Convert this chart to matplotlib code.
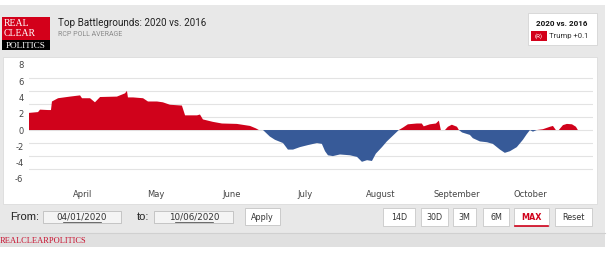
import numpy as np
import pandas as pd
import matplotlib
matplotlib.use("Agg")
import matplotlib.pyplot as plt
import matplotlib.dates as mdates
from matplotlib.patches import Rectangle

# trump margin 2020 minus 2016 (days counted from Apr 1, 2020)
day_offset = [-22.1, -18.4, -17.6, -14.3, -13.1, -12.7, -10.2, -5.3, -1.2, -0.4,
              2.9, 4.9, 7.0, 13.9, 17.2, 18.0, 18.4, 20.5, 24.6, 26.6,
              30.3, 32.7, 35.6, 40.5, 41.8, 46.7, 47.9, 49.1, 53.2, 56.9,
              63.0, 68.4, 70.8, 72.0, 73.7, 76.5, 78.6, 81.9, 83.9, 86.0,
              88.8, 92.1, 95.8, 97.8, 99.1, 100.3, 102.3, 105.2, 109.3, 112.2,
              114.2, 116.3, 118.3, 119.9, 122.4, 124.4, 126.5, 129.3, 131.0, 133.0,
              136.7, 138.7, 139.5, 142.0, 144.5, 145.7, 146.5, 148.2, 149.4, 151.0,
              153.1, 153.9, 155.2, 158.4, 159.6, 162.5, 165.4, 167.8, 170.7, 172.7,
              174.8, 177.6, 180.1, 181.7, 183.0, 184.2, 185.8, 188.3, 191.2, 192.4,
              193.6, 194.8, 196.5, 198.1, 200.2, 201.8, 202.6]
margin = [2.1, 2.2, 2.5, 2.45, 2.45, 3.5, 3.9, 4.1, 4.25, 3.9,
          3.9, 3.4, 4.05, 4.1, 4.5, 4.8, 4.0, 4.0, 3.9, 3.5,
          3.5, 3.4, 3.1, 3.0, 1.8, 1.8, 1.9, 1.3, 1.0, 0.8,
          0.75, 0.5, 0.2, 0.0, 0.0, -0.8, -1.2, -1.6, -2.4, -2.4,
          -2.1, -1.85, -1.6, -1.7, -2.6, -3.1, -3.2, -3.0, -3.1, -3.3,
          -3.9, -3.7, -3.8, -2.9, -2.1, -1.4, -0.8, 0.0, 0.3, 0.7,
          0.8, 0.8, 0.45, 0.7, 0.8, 1.15, 0.0, 0.0, 0.4, 0.65,
          0.4, 0.0, -0.3, -0.6, -1.0, -1.4, -1.5, -1.7, -2.4, -2.8,
          -2.6, -2.1, -1.2, -0.5, 0.0, -0.2, 0.0, 0.1, 0.4, 0.5,
          0.0, 0.0, 0.6, 0.75, 0.7, 0.4, 0.0]

y_ticks = [8, 6, 4, 2, 0, -2, -4, -6]
grid_vals = [6.4, 4.8, 3.2, 1.6, 0, -1.6, -3.2, -4.8]
range_buttons = ["14D", "30D", "3M", "6M", "MAX", "Reset"]

RED = "#d0021b"
BLUE = "#375a98"

start = pd.Timestamp("2020-04-01")
x = mdates.date2num(start + pd.to_timedelta(day_offset, unit="D"))
y = np.array(margin)

fig = plt.figure(figsize=(6.11, 2.54), dpi=100)

# background / page furniture drawn in pixel coordinates
bg = fig.add_axes([0, 0, 1, 1])
bg.set_xlim(0, 611)
bg.set_ylim(254, 0)
bg.axis("off")

bg.add_patch(Rectangle((0, 5), 605, 242, color="#e8e8e8", lw=0))
grad = np.linspace(0, 1, 60).reshape(-1, 1)
bg.imshow(grad, extent=(0, 605, 57, 5), cmap=plt.matplotlib.colors.LinearSegmentedColormap.from_list(
    "hdr", ["#f6f6f6", "#e2e2e2"]), aspect="auto", zorder=0.5)
bg.add_patch(Rectangle((3, 57), 594, 147, facecolor="white", edgecolor="#dcdcdc", lw=0.6, zorder=1))
bg.add_patch(Rectangle((0, 233), 605, 14, color="#e0e0e0", lw=0, zorder=1))
bg.plot([0, 605], [233, 233], color="#d0d0d0", lw=0.8, zorder=1)
bg.set_ylim(254, 0)
bg.set_xlim(0, 611)

# logo
bg.add_patch(Rectangle((2, 17), 48, 33, color="#d3001a", lw=0, zorder=2))
bg.add_patch(Rectangle((2, 40), 48, 10, color="black", lw=0, zorder=2))
bg.text(4, 24, "REAL", color="white", fontsize=7, family="Liberation Serif", va="center", zorder=3)
bg.text(4, 33, "CLEAR", color="white", fontsize=7, family="Liberation Serif", va="center", zorder=3)
bg.text(26, 45.5, "POLITICS", color="white", fontsize=6.6, family="Liberation Serif",
        va="center", ha="center", zorder=3)

bg.text(58, 23, "Top Battlegrounds: 2020 vs. 2016", fontsize=7.1, family="Roboto",
        color="#222222", va="center", zorder=3)
bg.text(58, 35, "RCP POLL AVERAGE", fontsize=5, family="Roboto", color="#8a8a8a",
        va="center", zorder=3)

# legend box
bg.add_patch(Rectangle((528, 13), 69, 32, facecolor="white", edgecolor="#d4d4d4", lw=0.6, zorder=2))
bg.text(562, 23, "2020 vs. 2016", fontsize=5.8, family="Roboto", weight="bold",
        ha="center", va="center", color="#111111", zorder=3)
bg.add_patch(Rectangle((531, 31), 16, 10, color="#d3001a", lw=0, zorder=3))
bg.text(539, 36, "(R)", fontsize=4.5, family="Roboto", color="white", ha="center", va="center", zorder=4)
bg.text(549, 36, "Trump +0.1", fontsize=5.6, family="Roboto", color="#333333", va="center", zorder=3)

# footer controls
bg.text(10, 217, "From:", fontsize=8, family="Liberation Sans", color="#222222", va="center", zorder=3)
bg.add_patch(Rectangle((43, 211), 78, 12, facecolor="#f4f4f4", edgecolor="#bdbdbd", lw=0.6, zorder=2))
bg.text(82, 217, "04/01/2020", fontsize=6.3, family="Liberation Sans Narrow", color="#333333",
        ha="center", va="center", zorder=3)
bg.plot([63, 101], [222, 222], color="#333333", lw=0.5, zorder=3)
bg.text(137, 217, "to:", fontsize=8, family="Liberation Sans", color="#222222", va="center", zorder=3)
bg.add_patch(Rectangle((154, 211), 79, 12, facecolor="#f4f4f4", edgecolor="#bdbdbd", lw=0.6, zorder=2))
bg.text(194, 217, "10/06/2020", fontsize=6.3, family="Liberation Sans Narrow", color="#333333",
        ha="center", va="center", zorder=3)
bg.plot([175, 213], [222, 222], color="#333333", lw=0.5, zorder=3)
bg.add_patch(Rectangle((245, 208), 35, 17, facecolor="white", edgecolor="#c4c4c4", lw=0.6, zorder=2))
bg.text(262.5, 217, "Apply", fontsize=5.8, family="Liberation Sans Narrow", color="#333333",
        ha="center", va="center", zorder=3)

btn_x = [383, 421, 453, 483, 514, 555]
btn_w = [32, 27, 23, 26, 35, 37]
for lbl, bx, bw in zip(range_buttons, btn_x, btn_w):
    bg.add_patch(Rectangle((bx, 208), bw, 18, facecolor="white", edgecolor="#c8c8c8", lw=0.6, zorder=2))
    is_max = lbl == "MAX"
    bg.text(bx + bw / 2, 217, lbl, fontsize=5.8, family="Liberation Sans Narrow",
            color=RED if is_max else "#333333", weight="bold" if is_max else "normal",
            ha="center", va="center", zorder=3)
    if is_max:
        bg.plot([bx + 1, bx + bw - 1], [225.5, 225.5], color=RED, lw=1.2, zorder=3)

bg.text(0, 241, "REALCLEARPOLITICS", fontsize=6, family="Liberation Serif", color="#c8102e",
        va="center", zorder=3)

# chart
ax = fig.add_axes([29 / 611, 1 - 183 / 254, 564 / 611, 123 / 254])
ax.patch.set_alpha(0)
for s in ax.spines.values():
    s.set_visible(False)

for g in grid_vals:
    ax.axhline(g, color="#e3e3e3", lw=0.8, zorder=1)

ax.fill_between(x, y, 0, where=y >= 0, interpolate=True, color=RED, lw=0, zorder=2)
ax.fill_between(x, y, 0, where=y <= 0, interpolate=True, color=BLUE, lw=0, zorder=2)

ax.set_xlim(mdates.date2num(start + pd.Timedelta(days=-22.1)),
            mdates.date2num(start + pd.Timedelta(days=208.8)))
ax.set_ylim(-6.5, 8.59)
ax.set_yticks(y_ticks)
ax.set_yticklabels([str(t) for t in y_ticks])
ax.xaxis.set_major_locator(mdates.MonthLocator())
ax.xaxis.set_major_formatter(mdates.DateFormatter("%B"))
ax.tick_params(axis="both", length=0, labelsize=6, labelcolor="#444444")
ax.tick_params(axis="y", pad=4)
ax.tick_params(axis="x", pad=5)

fig.savefig("out.png", dpi=100)
